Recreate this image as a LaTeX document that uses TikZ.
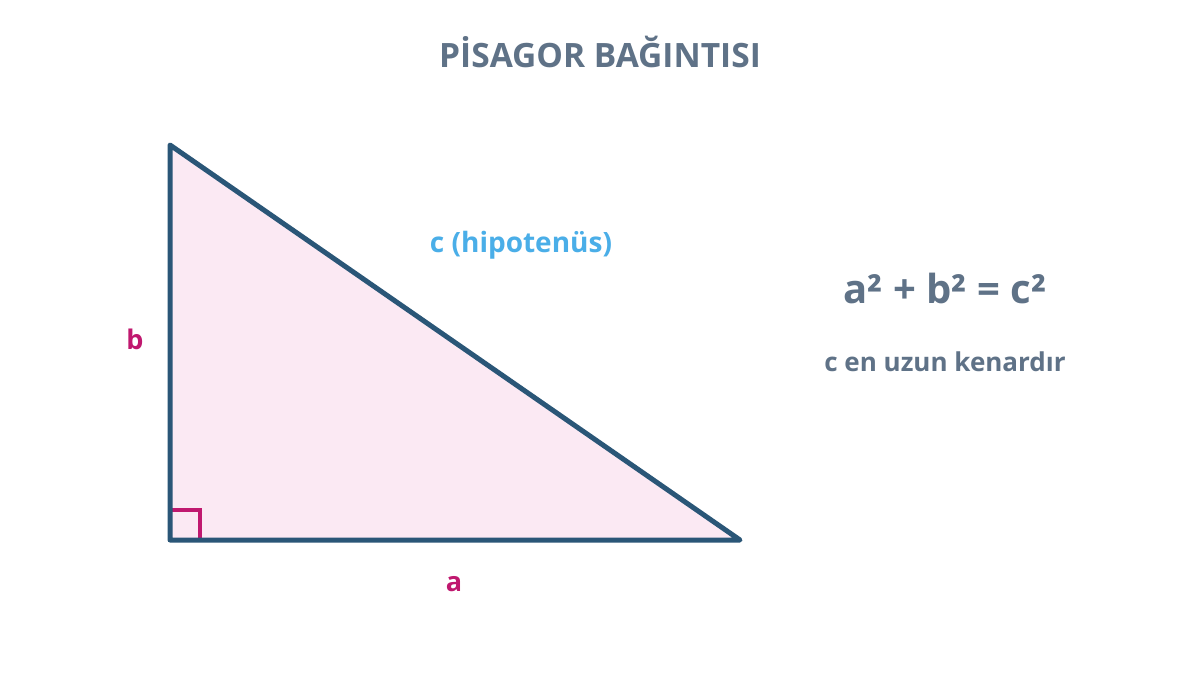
\documentclass[tikz,border=0pt]{standalone}
\usepackage{fontspec}
\setmainfont{Open Sans}
\definecolor{tri}{HTML}{2A5677}
\definecolor{trifill}{HTML}{FBE9F3}
\definecolor{mag}{HTML}{C0186F}
\definecolor{hblue}{HTML}{4AAEE8}
\definecolor{gtext}{HTML}{5F7287}
\tikzset{
  side/.style={draw=tri,line width=5pt,line join=round,line cap=round},
  maglabel/.style={text=mag,font=\fontsize{27}{32}\selectfont\bfseries},
  graylabel/.style={text=gtext,font=\bfseries},
}
\begin{document}
\begin{tikzpicture}[x=1pt,y=-1pt]
\useasboundingbox (0,0) rectangle (1200,675);
\fill[white] (0,0) rectangle (1200,675);
\coordinate (A) at (170,145);
\coordinate (C) at (170,540);
\coordinate (B) at (740,540);
\fill[trifill] (A) -- (C) -- (B) -- cycle;
\draw[mag,line width=3.5pt] (170,510) -- (200,510) -- (200,540);
\draw[side] (A) -- (C) -- (B) -- cycle;
\node[graylabel,font=\fontsize{33.5}{40}\selectfont\bfseries] (title) at (600,52) {PİSAGOR BAĞINTISI};
\node[text=hblue,font=\fontsize{28}{34}\selectfont\bfseries] (hyp) at (521,245) {c (hipotenüs)};
\node[maglabel] (lb) at (135,339) {b};
\node[maglabel] (la) at (454,584) {a};
\node[graylabel,font=\fontsize{40}{48}\selectfont\bfseries] (eq) at (945,288) {a² + b² = c²};
\node[graylabel,font=\fontsize{26}{31}\selectfont\bfseries] (note) at (945,362) {c en uzun kenardır};
\end{tikzpicture}
\end{document}
